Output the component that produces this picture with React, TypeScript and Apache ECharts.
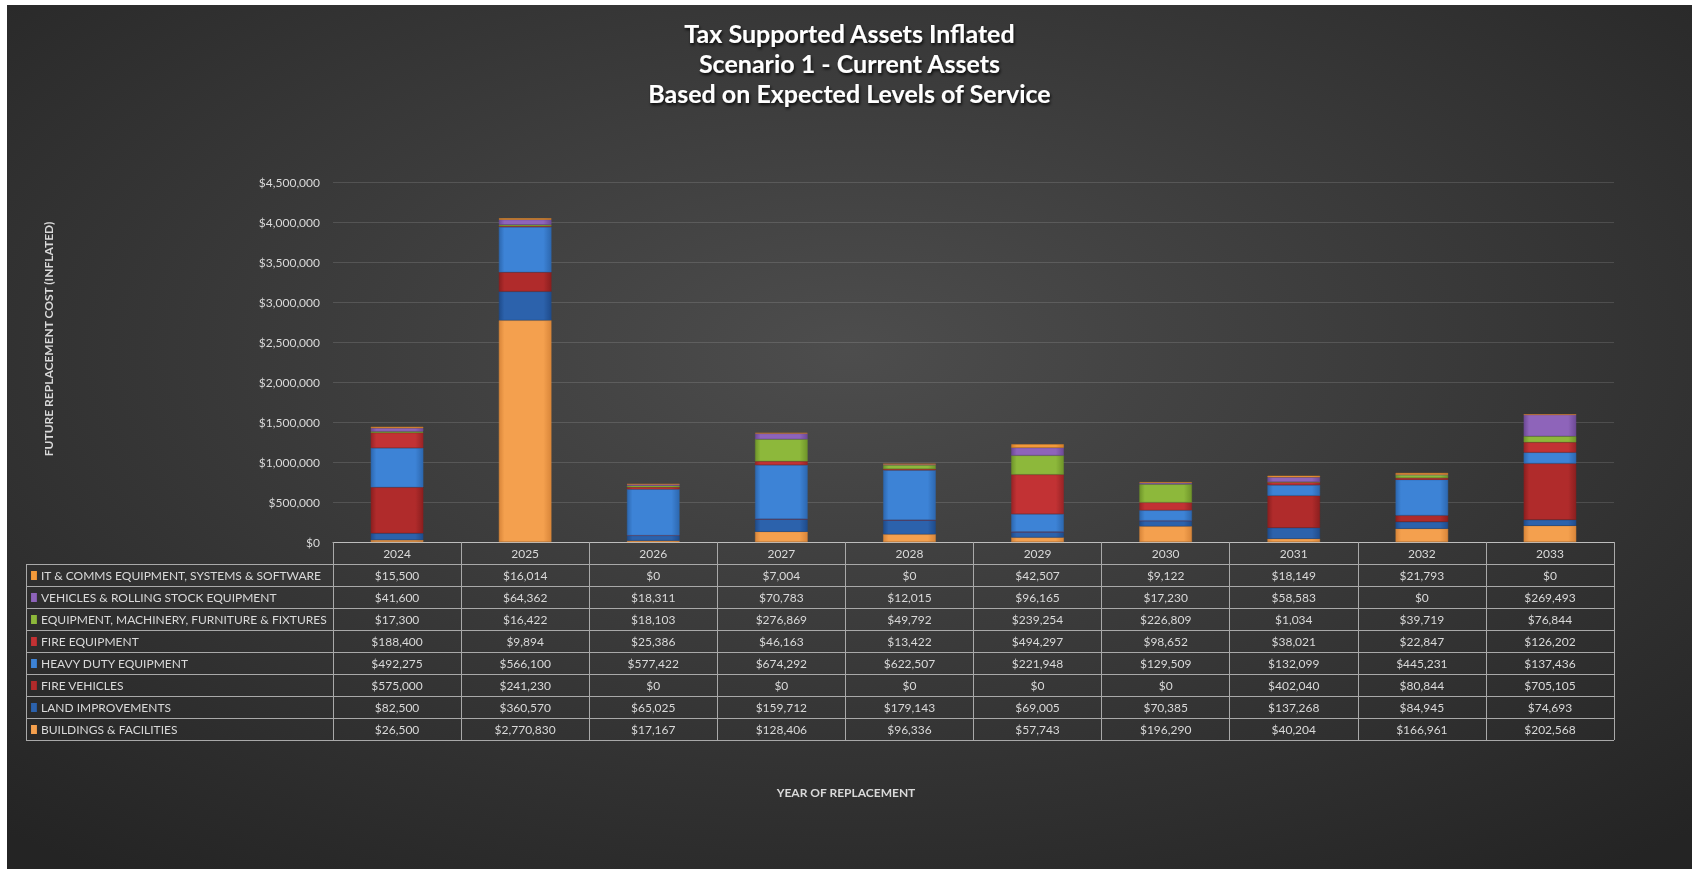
import { useEffect, useRef } from "react";
import * as echarts from "echarts";

const years = ["2024", "2025", "2026", "2027", "2028", "2029", "2030", "2031", "2032", "2033"];

// stacking order, bottom to top
const buildings = [26500, 2770830, 17167, 128406, 96336, 57743, 196290, 40204, 166961, 202568];
const landImprovements = [82500, 360570, 65025, 159712, 179143, 69005, 70385, 137268, 84945, 74693];
const fireVehicles = [575000, 241230, 0, 0, 0, 0, 0, 402040, 80844, 705105];
const heavyDuty = [492275, 566100, 577422, 674292, 622507, 221948, 129509, 132099, 445231, 137436];
const fireEquipment = [188400, 9894, 25386, 46163, 13422, 494297, 98652, 38021, 22847, 126202];
const equipmentMachinery = [17300, 16422, 18103, 276869, 49792, 239254, 226809, 1034, 39719, 76844];
const vehicles = [41600, 64362, 18311, 70783, 12015, 96165, 17230, 58583, 0, 269493];
const itComms = [15500, 16014, 0, 7004, 0, 42507, 9122, 18149, 21793, 0];

const seriesNames = [
  "BUILDINGS & FACILITIES",
  "LAND IMPROVEMENTS",
  "FIRE VEHICLES",
  "HEAVY DUTY EQUIPMENT",
  "FIRE EQUIPMENT",
  "EQUIPMENT, MACHINERY, FURNITURE & FIXTURES",
  "VEHICLES & ROLLING STOCK EQUIPMENT",
  "IT & COMMS EQUIPMENT, SYSTEMS & SOFTWARE",
];
const seriesData = [buildings, landImprovements, fireVehicles, heavyDuty, fireEquipment, equipmentMachinery, vehicles, itComms];
const seriesColors = ["#F4A04E", "#2C62AC", "#B02B2B", "#3D83D6", "#C23234", "#8DB83B", "#8E64BA", "#F39A3B"];
const seriesDark = ["#D9863A", "#1F4C8C", "#8C1F1F", "#2D68B0", "#9A2426", "#6F952A", "#6E4A96", "#D47E26"];

const yMin = 0;
const yMax = 4500000;
const yInterval = 500000;

const titleLines = ["Tax Supported Assets Inflated", "Scenario 1 - Current Assets", "Based on Expected Levels of Service"];
const yAxisTitle = "FUTURE REPLACEMENT COST (INFLATED)";
const xAxisTitle = "YEAR OF REPLACEMENT";

const fmt = (v: number) => "$" + v.toLocaleString("en-US");

const FONT = "Lato";
const TEXT = "#d9d9d9";
const LINE = "#a9a9a9";

export default function App() {
  const ref = useRef<HTMLDivElement>(null);
  useEffect(() => {
    if (!ref.current) return;
    const chart = echarts.init(ref.current, undefined, { renderer: "svg" });
    const W = ref.current.clientWidth;
    const H = ref.current.clientHeight;
    const gridLeft = 326;
    const gridRight = 78;
    const gridTop = 177;
    const gridBottom = 327;
    const plotRight = W - gridRight;
    const axisY = H - gridBottom;
    const rowH = 22;
    const nRows = seriesNames.length;
    const tableLeft = 19;

    const grad = (i: number) =>
      new echarts.graphic.LinearGradient(0, 0, 1, 0, [
        { offset: 0, color: seriesDark[i] },
        { offset: 0.1, color: seriesColors[i] },
        { offset: 0.85, color: seriesColors[i] },
        { offset: 1, color: seriesDark[i] },
      ]);

    chart.setOption({
      animation: false,
      backgroundColor: new echarts.graphic.RadialGradient(0.5, 0.4, 0.75, [
        { offset: 0, color: "#4d4d4d" },
        { offset: 1, color: "#242424" },
      ]),
      textStyle: { fontFamily: FONT },
      title: {
        text: titleLines.join("\n"),
        left: "center",
        top: 8,
        textStyle: {
          color: "#ffffff",
          fontFamily: FONT,
          fontWeight: "bold",
          fontSize: 25,
          lineHeight: 30,
          textShadowColor: "rgba(0,0,0,0.85)",
          textShadowBlur: 3,
          textShadowOffsetX: 1,
          textShadowOffsetY: 2,
        },
      },
      grid: { left: gridLeft, right: gridRight, top: gridTop, bottom: gridBottom, containLabel: false },
      xAxis: {
        type: "category",
        data: years,
        boundaryGap: true,
        axisLine: { show: true, lineStyle: { color: "#bdbdbd", width: 1 } },
        axisTick: { show: true, inside: false, length: rowH * (nRows + 1), lineStyle: { color: LINE, width: 1 } },
        axisLabel: { color: TEXT, fontSize: 12, fontFamily: FONT, margin: 5 },
      },
      yAxis: {
        type: "value",
        min: yMin,
        max: yMax,
        interval: yInterval,
        axisLine: { show: false },
        axisTick: { show: false },
        axisLabel: { color: TEXT, fontSize: 12, fontFamily: FONT, margin: 13, formatter: (v: number) => fmt(v) },
        splitLine: { lineStyle: { color: "rgba(255,255,255,0.13)", width: 1 } },
      },
      series: seriesNames.map((name, i) => ({
        name,
        type: "bar",
        stack: "total",
        data: seriesData[i],
        barWidth: "41%",
        itemStyle: { color: grad(i), borderColor: seriesDark[i], borderWidth: 0.5 },
      })),
    });

    const xs = years.map((y) => chart.convertToPixel({ xAxisIndex: 0 }, y) as number);
    const graphics: any[] = [];
    // horizontal table lines
    for (let r = 1; r <= nRows + 1; r++) {
      const y = Math.round(axisY + r * rowH) + 0.5;
      graphics.push({
        type: "line",
        shape: { x1: tableLeft, y1: y, x2: plotRight, y2: y },
        style: { stroke: LINE, lineWidth: 1 },
        silent: true,
      });
    }
    graphics.push({
      type: "line",
      shape: { x1: tableLeft + 0.5, y1: axisY + rowH, x2: tableLeft + 0.5, y2: axisY + rowH * (nRows + 1) },
      style: { stroke: LINE, lineWidth: 1 },
      silent: true,
    });
    // rows: top row is last series
    for (let r = 0; r < nRows; r++) {
      const si = nRows - 1 - r;
      const cy = axisY + rowH * (r + 1) + rowH / 2 + 0.5;
      graphics.push({
        type: "rect",
        shape: { x: 24, y: cy - 4.5, width: 6, height: 9 },
        style: { fill: grad(si) },
        silent: true,
      });
      graphics.push({
        type: "text",
        x: 34,
        y: cy,
        style: { text: seriesNames[si], fill: TEXT, font: `12px ${FONT}`, textVerticalAlign: "middle", textAlign: "left" },
        silent: true,
      });
      seriesData[si].forEach((v, ci) => {
        graphics.push({
          type: "text",
          x: xs[ci],
          y: cy,
          style: { text: fmt(v), fill: TEXT, font: `12px ${FONT}`, textVerticalAlign: "middle", textAlign: "center" },
          silent: true,
        });
      });
    }
    graphics.push({
      type: "text",
      x: 839,
      y: 787,
      style: { text: xAxisTitle, fill: TEXT, font: `bold 12px ${FONT}`, textVerticalAlign: "middle", textAlign: "center" },
      silent: true,
    });
    graphics.push({
      type: "text",
      x: 41,
      y: 334,
      rotation: Math.PI / 2,
      style: { text: yAxisTitle, fill: TEXT, font: `bold 12px ${FONT}`, textVerticalAlign: "middle", textAlign: "center" },
      silent: true,
    });
    chart.setOption({ graphic: graphics });

    return () => chart.dispose();
  }, []);
  return (
    <div
      ref={ref}
      style={{ position: "fixed", left: 7, top: 5, width: 1685, height: 864 }}
    />
  );
}
